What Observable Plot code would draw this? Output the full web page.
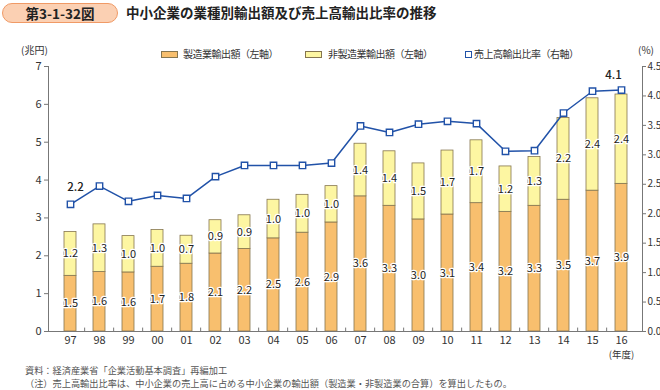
<!DOCTYPE html>
<html><head><meta charset="utf-8">
<script src="https://cdn.jsdelivr.net/npm/d3@7"></script>
<script src="https://cdn.jsdelivr.net/npm/@observablehq/plot@0.6"></script>
<style>
body{margin:0;background:#fff;font-family:"Noto Sans CJK JP",sans-serif;}
#wrap{position:relative;width:660px;height:390px;overflow:hidden;}
.abs{position:absolute;white-space:nowrap;line-height:1;color:#333;}
</style></head><body><div id="wrap"></div>
<script>
// ---- data ----
const years = ["97","98","99","00","01","02","03","04","05","06","07","08","09","10","11","12","13","14","15","16"];
const manufacturing = [1.47,1.57,1.56,1.71,1.79,2.06,2.18,2.46,2.61,2.88,3.57,3.32,2.96,3.09,3.39,3.16,3.32,3.48,3.72,3.90];
const nonManufacturing = [1.16,1.26,0.96,0.97,0.74,0.88,0.89,1.02,1.00,0.96,1.39,1.44,1.48,1.69,1.66,1.20,1.29,2.16,2.44,2.36];
const exportRatio = [2.16,2.47,2.21,2.31,2.26,2.63,2.82,2.82,2.82,2.86,3.49,3.38,3.52,3.57,3.53,3.06,3.07,3.71,4.08,4.10];
const leftTicks = [0,1,2,3,4,5,6,7];
const rightTicks = [0,0.5,1,1.5,2,2.5,3,3.5,4,4.5];
const seriesNames = ["製造業輸出額（左軸）","非製造業輸出額（左軸）","売上高輸出比率（右軸）"];
const titleLabel = "第3-1-32図";
const titleText = "中小企業の業種別輸出額及び売上高輸出比率の推移";
const leftUnit = "(兆円)";
const rightUnit = "(%)";
const xUnit = "(年度)";
const notes = ["資料：経済産業省「企業活動基本調査」再編加工",
  "（注）売上高輸出比率は、中小企業の売上高に占める中小企業の輸出額（製造業・非製造業の合算）を算出したもの。"];

// ---- colors ----
const cMfg = "#f8bf6e", cNon = "#fdf6a2", cEdge = "#85754f", cLine = "#2152a8";

const k = 7 / 4.5; // right axis -> left axis units
const rows = years.flatMap((yr, i) => [
  {year: yr, type: "mfg", value: manufacturing[i]},
  {year: yr, type: "non", value: nonManufacturing[i]}
]);
const ratioRows = years.map((yr, i) => ({year: yr, ratio: exportRatio[i]}));
const firstPt = [ratioRows[0]];
const lastPt = [ratioRows[ratioRows.length - 1]];

const W = 660, H = 390, mL = 48, mR = 18, mT = 66, mB = 59;
const step = (W - mL - mR) / years.length;

const chart = Plot.plot({
  width: W, height: H,
  marginLeft: mL, marginRight: mR, marginTop: mT, marginBottom: mB,
  style: {fontFamily: '"Noto Sans CJK JP", sans-serif', fontSize: "11px", color: "#333", background: "transparent"},
  x: {type: "band", domain: years, paddingInner: 0.6, paddingOuter: 0.3},
  y: {domain: [0, 7]},
  color: {domain: ["mfg", "non"], range: [cMfg, cNon]},
  marks: [
    Plot.barY(rows, {x: "year", y: "value", fill: "type", stroke: cEdge, strokeWidth: 0.8}),
    Plot.text(rows, Plot.stackY({x: "year", y: "value", z: "type", text: d => d.value.toFixed(1),
      fill: "#222", stroke: "white", strokeWidth: 2.5, fontSize: 11})),
    Plot.ruleX(years.slice(1), {x: d => d, dx: -step / 2, y1: 0, y2: 0.09, stroke: "#777"}),
    Plot.line(ratioRows, {x: "year", y: d => d.ratio * k, stroke: cLine, strokeWidth: 1.5}),
    Plot.dot(ratioRows, {x: "year", y: d => d.ratio * k, symbol: "square", r: 3.6, fill: "white", stroke: cLine, strokeWidth: 1.4}),
    Plot.text(firstPt, {x: "year", y: d => d.ratio * k, text: d => d.ratio.toFixed(1),
      dx: 5, dy: -17, fill: "#222", fontSize: 11.5, fontWeight: 500}),
    Plot.text(lastPt, {x: "year", y: d => d.ratio * k, text: d => d.ratio.toFixed(1),
      dx: -8, dy: -15, fill: "#222", fontSize: 11.5, fontWeight: 500}),
    Plot.axisY({anchor: "left", ticks: leftTicks, tickFormat: d => String(d), tickSize: 4, tickPadding: 3, label: null, stroke: "#777"}),
    Plot.axisY({anchor: "right", ticks: rightTicks.map(v => v * k), tickFormat: d => (d / k).toFixed(1),
      tickSize: 3, tickPadding: 2, fontSize: 10, label: null, stroke: "#777"}),
    Plot.axisX({tickSize: 0, tickPadding: 5, label: null}),
    Plot.text([xUnit], {x: () => "16", frameAnchor: "bottom", dy: 26, text: d => d, fontSize: 9.5}),
    Plot.frame({anchor: "left", stroke: "#777"}),
    Plot.frame({anchor: "right", stroke: "#777"}),
    Plot.frame({anchor: "bottom", stroke: "#777"})
  ]
});
const wrap = document.getElementById("wrap");
wrap.appendChild(chart);

function addDiv(html, css) {
  const el = document.createElement("div");
  el.className = "abs";
  el.innerHTML = html;
  Object.assign(el.style, css);
  wrap.appendChild(el);
  return el;
}
// title
addDiv(titleLabel, {left: "2px", top: "3px", width: "114px", height: "18px", background: "#fbd0b3",
  border: "1px solid #f09a66", borderRadius: "10px", fontSize: "13.5px", fontWeight: "bold",
  color: "#222", textAlign: "center", lineHeight: "18px"});
addDiv(titleText, {left: "126px", top: "5.5px", fontSize: "13.5px", fontWeight: "bold", color: "#222"});
// units
addDiv(leftUnit, {left: "21px", top: "45px", fontSize: "10px"});
addDiv(rightUnit, {left: "638px", top: "45px", fontSize: "10px"});
// legend
addDiv("", {left: "161px", top: "51px", width: "15px", height: "5px", background: cMfg, border: "1px solid " + cEdge});
addDiv(seriesNames[0], {left: "183px", top: "48.5px", fontSize: "10px", letterSpacing: "-0.5px"});
addDiv("", {left: "305px", top: "51px", width: "15px", height: "5px", background: cNon, border: "1px solid " + cEdge});
addDiv(seriesNames[1], {left: "328px", top: "48.5px", fontSize: "10px", letterSpacing: "-0.5px"});
addDiv("", {left: "465px", top: "50.5px", width: "5px", height: "5px", background: "#fff", border: "1.5px solid " + cLine});
addDiv(seriesNames[2], {left: "474px", top: "48.5px", fontSize: "10px", letterSpacing: "-0.5px"});
// notes
addDiv(notes[0], {left: "25px", top: "366px", fontSize: "9.2px", color: "#555"});
addDiv(notes[1], {left: "25px", top: "378.5px", fontSize: "9.2px", color: "#555"});
</script>
</body></html>
